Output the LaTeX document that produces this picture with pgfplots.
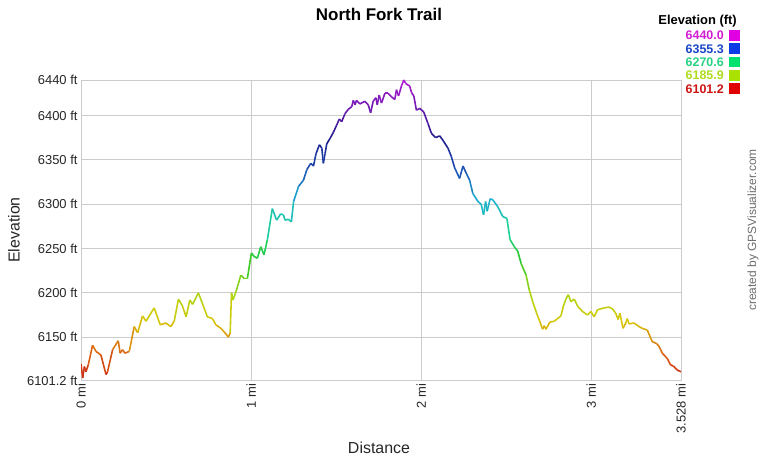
\documentclass[border=0pt]{standalone}
\usepackage{pgfplots}
\pgfplotsset{compat=1.18}
\usepackage{fontspec}
\setmainfont{Liberation Sans}
\definecolor{gridc}{RGB}{204,204,204}
\definecolor{credc}{RGB}{110,110,110}
\definecolor{l1t}{RGB}{210,30,210}
\definecolor{l1s}{RGB}{225,0,225}
\definecolor{l2t}{RGB}{25,70,200}
\definecolor{l2s}{RGB}{10,60,230}
\definecolor{l3t}{RGB}{40,210,130}
\definecolor{l3s}{RGB}{0,225,110}
\definecolor{l4t}{RGB}{175,220,30}
\definecolor{l4s}{RGB}{170,225,0}
\definecolor{l5t}{RGB}{205,20,20}
\definecolor{l5s}{RGB}{225,0,0}
\pgfplotstableread{
x y
0 6120
0.01 6104
0.02 6117
0.029 6111
0.043 6119
0.068 6141
0.088 6134
0.117 6130
0.147 6108
0.156 6111
0.186 6136
0.219 6146
0.23 6132
0.244 6136
0.258 6132
0.284 6134
0.313 6162
0.333 6155
0.362 6174
0.382 6168
0.43 6183
0.466 6164
0.499 6166
0.528 6162
0.548 6168
0.573 6193
0.597 6185
0.618 6173
0.64 6192
0.656 6187
0.69 6200
0.714 6188
0.743 6173
0.773 6171
0.793 6164
0.822 6160
0.842 6156
0.867 6150
0.877 6155
0.885 6200
0.894 6192
0.914 6203
0.94 6220
0.96 6216
0.978 6216
1.002 6245
1.018 6241
1.037 6239
1.057 6252
1.076 6243
1.096 6260
1.125 6295
1.15 6282
1.174 6289
1.19 6288
1.2 6282
1.22 6283
1.237 6280
1.25 6303
1.279 6320
1.308 6327
1.328 6339
1.351 6346
1.367 6343
1.382 6357
1.402 6367
1.416 6363
1.425 6346
1.435 6357
1.445 6368
1.464 6374
1.484 6381
1.503 6389
1.519 6396
1.533 6393
1.552 6402
1.572 6407
1.592 6410
1.601 6417
1.611 6412
1.62 6417
1.64 6413
1.669 6416
1.689 6412
1.703 6403
1.718 6416
1.734 6420
1.742 6412
1.753 6423
1.767 6414
1.787 6425
1.806 6425
1.826 6421
1.845 6418
1.855 6429
1.867 6422
1.884 6433
1.898 6440
1.91 6436
1.933 6433
1.943 6426
1.957 6422
1.972 6406
1.992 6408
2.015 6404
2.04 6391
2.06 6380
2.085 6375
2.109 6377
2.128 6372
2.158 6363
2.177 6354
2.197 6341
2.226 6329
2.246 6343
2.265 6335
2.285 6327
2.304 6312
2.334 6303
2.353 6300
2.367 6288
2.379 6303
2.388 6292
2.406 6306
2.421 6305
2.451 6297
2.48 6286
2.504 6284
2.523 6260
2.548 6252
2.568 6247
2.588 6233
2.617 6220
2.636 6203
2.656 6190
2.679 6177
2.699 6167
2.714 6159
2.724 6163
2.734 6159
2.757 6167
2.783 6168
2.802 6171
2.822 6174
2.836 6185
2.851 6193
2.865 6198
2.881 6190
2.9 6193
2.92 6185
2.949 6179
2.978 6175
2.998 6179
3.017 6173
3.037 6181
3.076 6183
3.105 6184
3.125 6182
3.144 6177
3.158 6170
3.169 6177
3.187 6160
3.203 6166
3.212 6171
3.222 6165
3.252 6166
3.281 6162
3.3 6160
3.33 6158
3.359 6145
3.383 6143
3.398 6140
3.418 6132
3.447 6126
3.466 6119
3.486 6117
3.506 6113
3.528 6111
}\elev
\begin{document}
\begin{tikzpicture}[x=1bp,y=1bp]
\useasboundingbox (0,0) rectangle (760,460);
\begin{axis}[
  at={(81bp,79.5bp)}, anchor=south west,
  scale only axis, width=600bp, height=300.5bp,
  xmin=0, xmax=3.528, ymin=6101.2, ymax=6440,
  xtick={0,1,2,3,3.528},
  xticklabels={0 mi,1 mi,2 mi,3 mi,3.528 mi},
  ytick={6101.2,6150,6200,6250,6300,6350,6400,6440},
  yticklabels={6101.2 ft,6150 ft,6200 ft,6250 ft,6300 ft,6350 ft,6400 ft,6440 ft},
  grid=major,
  major grid style={gridc, line width=0.8bp},
  axis line style={gridc, line width=0.8bp},
  major tick length=0pt,
  x tick label style={rotate=90, anchor=east, font=\fontsize{13}{13}\selectfont, text=black!85},
  y tick label style={font=\fontsize{13}{13}\selectfont, text=black!85},
  colormap={elev}{rgb255(0cm)=(200,30,20); rgb255(1cm)=(220,110,20); rgb255(2cm)=(215,200,10); rgb255(3cm)=(165,215,20); rgb255(4cm)=(40,200,40); rgb255(5cm)=(30,210,150); rgb255(6cm)=(30,175,210); rgb255(7cm)=(30,80,180); rgb255(8cm)=(30,30,140); rgb255(9cm)=(105,25,175); rgb255(10cm)=(180,30,210)},
  point meta min=6101.2, point meta max=6440,
]
\addplot[mesh, line width=1.6bp, line join=round, point meta=y] table[x=x,y=y] {\elev};
\end{axis}
\node[font=\fontsize{17}{20}\selectfont\bfseries] at (379,446) {North Fork Trail};
\node[font=\fontsize{16}{18}\selectfont, rotate=90, text=black!85] at (14,230) {Elevation};
\node[font=\fontsize{16}{18}\selectfont, text=black!85] at (379,12) {Distance};
\node[font=\fontsize{12}{14}\selectfont, rotate=90, text=credc] at (753,230) {created by GPSVisualizer.com};
\node[font=\fontsize{13}{15}\selectfont\bfseries, anchor=east, inner sep=0pt] at (737,439) {Elevation (ft)};
\foreach \yy/\lab/\ct/\cs in {424.3/6440.0/l1t/l1s, 411/6355.3/l2t/l2s, 397.7/6270.6/l3t/l3s, 384.4/6185.9/l4t/l4s, 371.1/6101.2/l5t/l5s}{
  \node[font=\fontsize{12.5}{14}\selectfont\bfseries, anchor=east, inner sep=0pt, text=\ct] at (724,\yy) {\lab};
  \fill[\cs] (729,\yy-5) rectangle (740,\yy+5.5);
}
\end{tikzpicture}
\end{document}
